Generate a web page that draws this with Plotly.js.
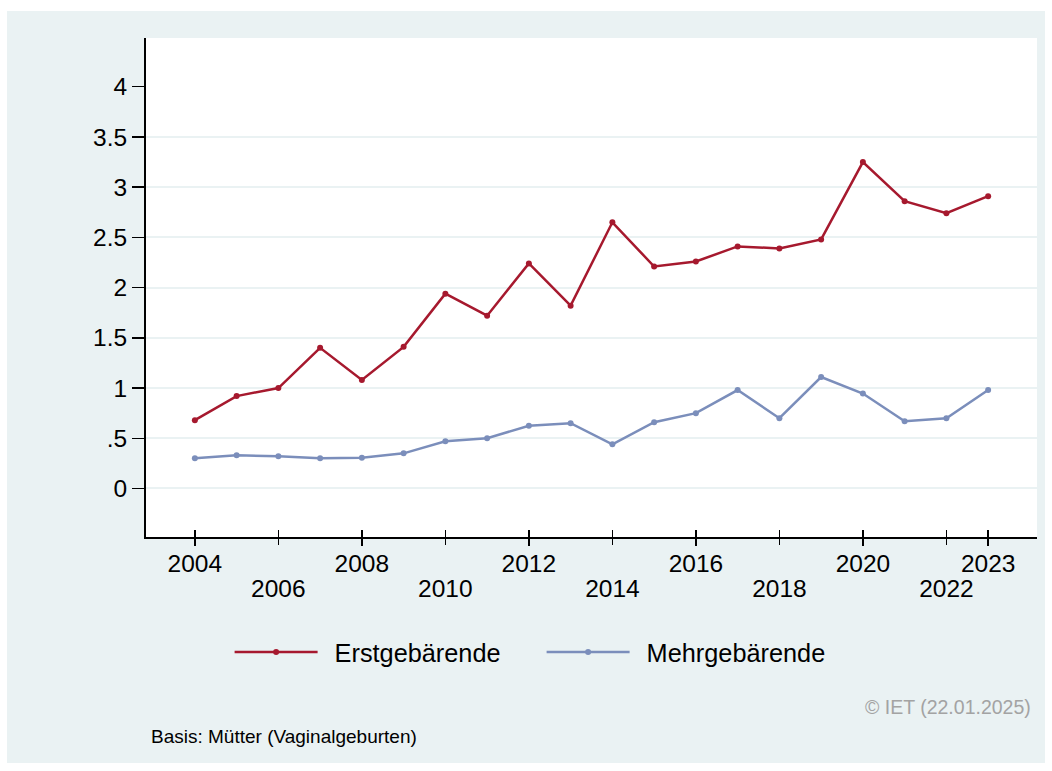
<!DOCTYPE html>
<html>
<head>
<meta charset="utf-8">
<script src="https://cdn.plot.ly/plotly-3.0.1.min.js"></script>
<style>html,body{margin:0;padding:0;background:#fff;}#chart{width:1052px;height:771px;}</style>
</head>
<body>
<div id="chart"></div>
<script>
// ---- data ----
const years = [2004,2005,2006,2007,2008,2009,2010,2011,2012,2013,2014,2015,2016,2017,2018,2019,2020,2021,2022,2023];
const erstgebaerende = [0.68,0.92,1.00,1.40,1.08,1.41,1.94,1.72,2.24,1.82,2.65,2.21,2.26,2.41,2.39,2.48,3.25,2.86,2.74,2.91];
const mehrgebaerende = [0.30,0.33,0.32,0.30,0.305,0.35,0.47,0.50,0.625,0.65,0.44,0.66,0.75,0.98,0.70,1.11,0.945,0.67,0.70,0.98];
const seriesNames = ["Erstgebärende","Mehrgebärende"];
const yTickVals = [0,0.5,1,1.5,2,2.5,3,3.5,4];
const yTickText = ["0",".5","1","1.5","2","2.5","3","3.5","4"];
const yGridVals = [0,0.5,1,1.5,2,2.5,3,3.5];
const xTicksTop = [2004,2008,2012,2016,2020,2023];
const xTicksBottom = [2006,2010,2014,2018,2022];
const xTicksAll = [2004,2006,2008,2010,2012,2014,2016,2018,2020,2022,2023];
const noteText = "Basis: Mütter (Vaginalgeburten)";
const creditText = "© IET (22.01.2025)";

// ---- style ----
const FONT = "Liberation Sans, Arial, Helvetica, sans-serif";
const RED = "#a6192e";
const BLUE = "#7b8ebb";
const BG = "#eaf2f3";
const XRANGE = [2002.83, 2024.17];
const YRANGE = [-0.483, 4.485];

const traces = [
  {x: years, y: erstgebaerende, name: seriesNames[0], type: "scatter", mode: "lines+markers",
   line: {color: RED, width: 2.5}, marker: {color: RED, size: 6}, xaxis: "x", yaxis: "y"},
  {x: years, y: mehrgebaerende, name: seriesNames[1], type: "scatter", mode: "lines+markers",
   line: {color: BLUE, width: 2.5}, marker: {color: BLUE, size: 6}, xaxis: "x", yaxis: "y"}
];

const tickFont = {family: FONT, size: 24.5, color: "#000"};

const layout = {
  width: 1052, height: 771,
  margin: {l: 146, r: 15, t: 38, b: 234, pad: 0},
  paper_bgcolor: "#ffffff",
  plot_bgcolor: "#ffffff",
  font: {family: FONT, color: "#000"},
  showlegend: true,
  legend: {
    orientation: "h", x: 0.444, xanchor: "center", y: -0.2305, yanchor: "middle",
    font: {family: FONT, size: 25.3, color: "#000"},
    bgcolor: "rgba(0,0,0,0)", itemwidth: 95, entrywidth: 202, entrywidthmode: "pixels",
    traceorder: "normal"
  },
  xaxis: {
    range: XRANGE, tickmode: "array", tickvals: xTicksTop, ticktext: xTicksTop.map(String),
    ticks: "outside", ticklen: 7, tickwidth: 1.5, tickcolor: "#000",
    ticklabelstandoff: -3,
    showline: true, linecolor: "#000", linewidth: 2,
    showgrid: false, zeroline: false, tickfont: tickFont, fixedrange: true
  },
  xaxis2: {
    overlaying: "x", anchor: "y", side: "bottom", range: XRANGE, tickmode: "array",
    tickvals: xTicksBottom, ticktext: xTicksBottom.map(String),
    ticks: "outside", ticklen: 7, tickwidth: 1.5, tickcolor: "#000",
    ticklabelstandoff: 23, showline: false, showgrid: false, zeroline: false,
    tickfont: tickFont, fixedrange: true
  },
  xaxis3: {
    overlaying: "x", anchor: "y", side: "bottom", range: XRANGE, tickmode: "array",
    tickvals: xTicksAll, ticks: "inside", ticklen: 7, tickwidth: 1.5, tickcolor: "#000",
    showticklabels: false, showline: false, showgrid: false, zeroline: false, fixedrange: true
  },
  yaxis: {
    range: YRANGE, tickmode: "array", tickvals: yTickVals, ticktext: yTickText,
    ticks: "outside", ticklen: 12, tickwidth: 1.5, tickcolor: "#000",
    showline: true, linecolor: "#000", linewidth: 2,
    showgrid: false, zeroline: false, tickfont: tickFont, fixedrange: true
  },
  yaxis2: {
    overlaying: "y", anchor: "x", range: YRANGE, tickmode: "array", tickvals: yGridVals,
    showgrid: true, gridcolor: BG, gridwidth: 2, showticklabels: false, ticks: "",
    showline: false, zeroline: false, fixedrange: true
  },
  shapes: [
    {type: "rect", xref: "paper", yref: "paper", x0: -0.156, x1: 1.009, y0: -0.4529, y1: 1.054,
     fillcolor: BG, line: {width: 0}, layer: "below"},
    {type: "rect", xref: "x domain", yref: "y domain", x0: 0, x1: 1, y0: 0, y1: 1,
     fillcolor: "#ffffff", line: {width: 0}, layer: "below"}
  ],
  annotations: [
    {text: creditText, xref: "paper", yref: "paper", x: 0.9955, y: -0.3407,
     xanchor: "right", yanchor: "middle", showarrow: false,
     font: {family: FONT, size: 19.5, color: "#a3a3a3"}},
    {text: noteText, xref: "paper", yref: "paper", x: 0.0034, y: -0.4008,
     xanchor: "left", yanchor: "middle", showarrow: false,
     font: {family: FONT, size: 19, color: "#000"}}
  ]
};

const helperTraces = [
  {x: [], y: [], xaxis: "x2", yaxis: "y", showlegend: false, hoverinfo: "skip", type: "scatter"},
  {x: [], y: [], xaxis: "x3", yaxis: "y", showlegend: false, hoverinfo: "skip", type: "scatter"},
  {x: [], y: [], xaxis: "x", yaxis: "y2", showlegend: false, hoverinfo: "skip", type: "scatter"}
];

Plotly.newPlot("chart", helperTraces.concat(traces), layout, {displayModeBar: false, staticPlot: true}).then(function(){
  document.querySelectorAll("#chart .legend .legendlines path").forEach(function(p){
    p.setAttribute("d", "M5,0h83");
  });
  document.querySelectorAll("#chart .legend .legendpoints path").forEach(function(p){
    p.setAttribute("transform", "translate(46.5,0)");
  });
});
</script>
</body>
</html>
